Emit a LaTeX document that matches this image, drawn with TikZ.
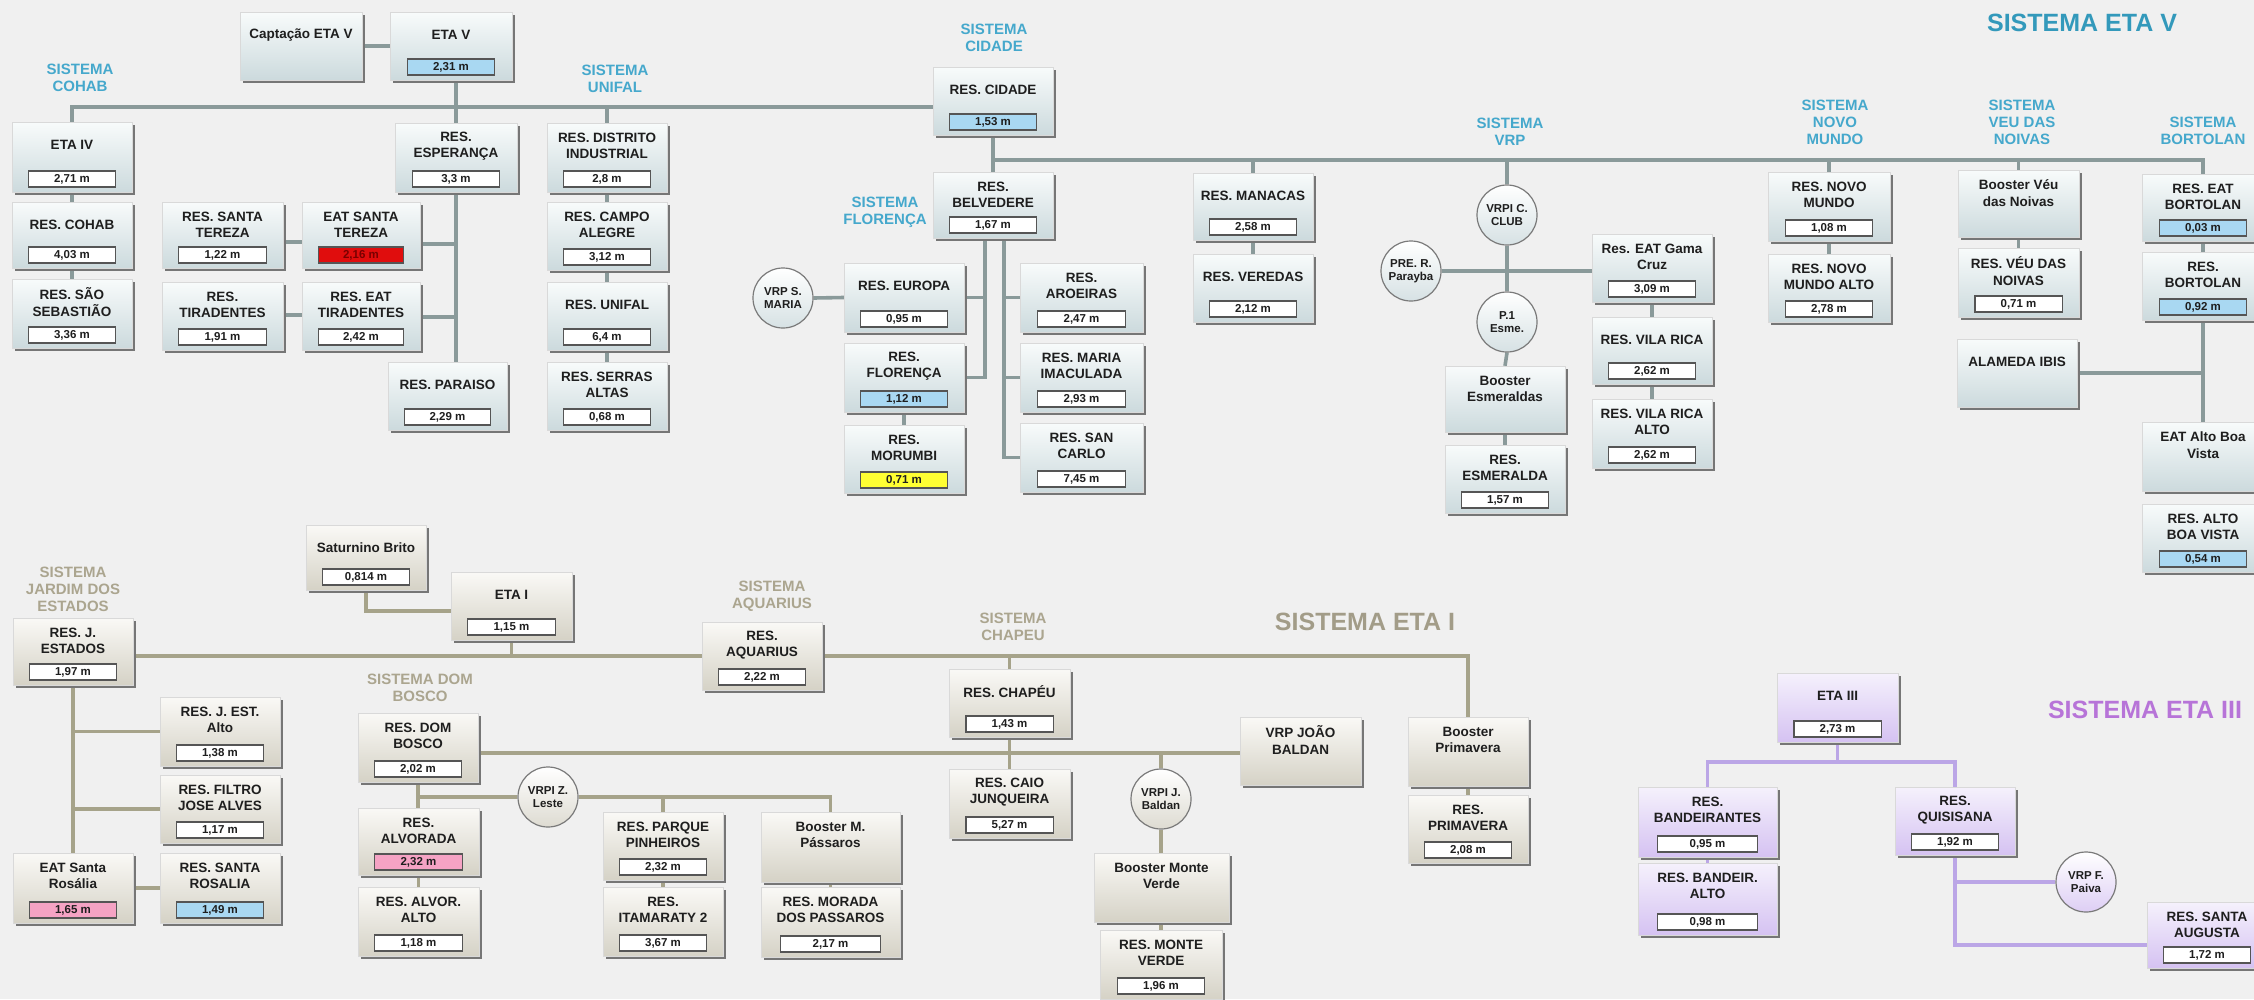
\documentclass[tikz,border=0pt]{standalone}
\usepackage{fontspec}
\setmainfont{Liberation Sans}
\usetikzlibrary{shadows,calc}
\definecolor{bgc}{HTML}{F0F0F0}
\definecolor{tbt}{HTML}{F8FBFB}
\definecolor{tbb}{HTML}{CCDADD}
\definecolor{bbt}{HTML}{FAF9F6}
\definecolor{bbb}{HTML}{D5D2C6}
\definecolor{pbt}{HTML}{F5F1FC}
\definecolor{pbb}{HTML}{D5C2F2}
\definecolor{shc}{HTML}{767676}
\definecolor{txc}{HTML}{1E1E1E}
\definecolor{vbd}{HTML}{555555}
\definecolor{vblue}{HTML}{A9D8F2}
\definecolor{vred}{HTML}{E00D0D}
\definecolor{vredt}{HTML}{7A0000}
\definecolor{vyel}{HTML}{FFFF33}
\definecolor{vpink}{HTML}{F5A3C4}
\definecolor{cird}{HTML}{7A7A7A}
\definecolor{tlc}{HTML}{8A9A9A}
\definecolor{blc}{HTML}{A6A38A}
\definecolor{plc}{HTML}{BBA6E6}
\definecolor{cyanc}{HTML}{45A8CC}
\definecolor{cyanbig}{HTML}{3399BB}
\definecolor{tanc}{HTML}{ABA58F}
\definecolor{tanbig}{HTML}{A29C88}
\definecolor{purc}{HTML}{B774D8}
\pgfdeclarelayer{bgl}
\pgfdeclarelayer{lnl}
\pgfsetlayers{bgl,lnl,main}
\newcommand\mybox[9]{%
  \pgfmathsetmacro\bw{#4-#2}\pgfmathsetmacro\bh{#5-#3}%
  \pgfmathsetmacro\bcx{(#2+#4)/2}\pgfmathsetmacro\bcy{(#3+#5)/2}%
  \node[#6, minimum width=\bw pt, minimum height=\bh pt] (#1) at (\bcx,\bcy) {};
  \node[ttext] (#1-t) at (\bcx,#3+23) {#7};
  \if\relax\detokenize{#8}\relax\else
    \pgfmathsetmacro\vwd{0.72*\bw}%
    \node[#9, minimum width=\vwd pt] (#1-v) at (\bcx,#5-13) {#8};
  \fi
}
\begin{document}
\begin{tikzpicture}[x=1pt,y=-1pt,
  boxbase/.style={rectangle, inner sep=0pt, draw=white!85!black, line width=0.4pt,
    drop shadow={shadow xshift=2.5pt, shadow yshift=-2.5pt, fill=shc, opacity=1}},
  tb/.style={boxbase, top color=tbt, bottom color=tbb},
  bb/.style={boxbase, top color=bbt, bottom color=bbb},
  pb/.style={boxbase, top color=pbt, bottom color=pbb},
  ttext/.style={align=center, inner sep=0pt, font=\fontsize{13.5}{16.5}\selectfont\bfseries, text=txc},
  vbox/.style={draw=vbd, line width=1.1pt, inner sep=0pt, minimum height=16pt,
    font=\fontsize{11.5}{12}\selectfont\bfseries, text=txc},
  vw/.style={vbox, fill=white},
  vb/.style={vbox, fill=vblue},
  vr/.style={vbox, fill=vred, text=vredt},
  vy/.style={vbox, fill=vyel},
  vp/.style={vbox, fill=vpink},
  circbase/.style={circle, minimum size=60pt, inner sep=0pt, draw=cird, line width=1.2pt,
    align=center, font=\fontsize{11.5}{13.5}\selectfont\bfseries, text=txc},
  tcirc/.style={circbase, top color=white, bottom color=tbb!80!white},
  bcirc/.style={circbase, top color=white, bottom color=bbb!80!white},
  pcirc/.style={circbase, top color=white, bottom color=pbb!80!white},
  lab/.style={align=center, inner sep=0pt, font=\fontsize{15}{17}\selectfont\bfseries},
  tlab/.style={lab, text=cyanc},
  blab/.style={lab, text=tanc},
  bigt/.style={inner sep=0pt, font=\fontsize{25}{28}\selectfont\bfseries},
  tl/.style={draw=tlc, line width=3.6pt},
  bl/.style={draw=blc, line width=3.6pt},
  pl/.style={draw=plc, line width=3.6pt}
]
\useasboundingbox (0,0) rectangle (2254,999);
\begin{pgfonlayer}{bgl}
\fill[bgc] (0,0) rectangle (2254,999);
\end{pgfonlayer}

% ---------------- SISTEMA ETA V ----------------
\node[bigt, text=cyanbig] (titv) at (2082,23) {SISTEMA ETA V};
\node[tlab] (lcohab) at (80,78) {SISTEMA\\COHAB};
\node[tlab] (lunifal) at (615,79) {SISTEMA\\UNIFAL};
\node[tlab] (lcidade) at (994,38) {SISTEMA\\CIDADE};
\node[tlab] (lfloren) at (885,212) {SISTEMA\\FLORENÇA};
\node[tlab] (lvrp) at (1510,132) {SISTEMA\\VRP};
\node[tlab] (lnovo) at (1835,122) {SISTEMA\\NOVO\\MUNDO};
\node[tlab] (lveu) at (2022,122) {SISTEMA\\VEU DAS\\NOIVAS};
\node[tlab] (lbort) at (2203,131) {SISTEMA\\BORTOLAN};

\mybox{capt}{240}{12}{362}{80}{tb}{Captação ETA V}{}{vw}
\mybox{etav}{390}{12}{512}{80}{tb}{ETA V}{2,31 m}{vb}
\mybox{etaiv}{12}{122}{132}{192}{tb}{ETA IV}{2,71 m}{vw}
\mybox{cohab}{12}{202}{132}{268}{tb}{RES. COHAB}{4,03 m}{vw}
\mybox{saoseb}{12}{279}{132}{348}{tb}{RES. SÃO\\SEBASTIÃO}{3,36 m}{vw}
\mybox{stereza}{162}{202}{283}{268}{tb}{RES. SANTA\\TEREZA}{1,22 m}{vw}
\mybox{eatst}{302}{202}{420}{268}{tb}{EAT SANTA\\TEREZA}{2,16 m}{vr}
\mybox{tirad}{162}{282}{283}{350}{tb}{RES.\\TIRADENTES}{1,91 m}{vw}
\mybox{eattir}{302}{282}{420}{350}{tb}{RES. EAT\\TIRADENTES}{2,42 m}{vw}
\mybox{esper}{395}{123}{517}{192}{tb}{RES.\\ESPERANÇA}{3,3 m}{vw}
\mybox{paraiso}{388}{362}{507}{430}{tb}{RES. PARAISO}{2,29 m}{vw}
\mybox{distr}{547}{123}{667}{192}{tb}{RES. DISTRITO\\INDUSTRIAL}{2,8 m}{vw}
\mybox{campo}{547}{202}{667}{270}{tb}{RES. CAMPO\\ALEGRE}{3,12 m}{vw}
\mybox{unifal}{547}{282}{667}{350}{tb}{RES. UNIFAL}{6,4 m}{vw}
\mybox{serras}{547}{362}{667}{430}{tb}{RES. SERRAS\\ALTAS}{0,68 m}{vw}
\mybox{cidade}{933}{67}{1053}{135}{tb}{RES. CIDADE}{1,53 m}{vb}
\mybox{belv}{933}{172}{1053}{238}{tb}{RES.\\BELVEDERE}{1,67 m}{vw}
\mybox{europa}{844}{263}{964}{332}{tb}{RES. EUROPA}{0,95 m}{vw}
\mybox{floren}{844}{343}{964}{412}{tb}{RES.\\FLORENÇA}{1,12 m}{vb}
\mybox{morumbi}{844}{425}{964}{493}{tb}{RES.\\MORUMBI}{0,71 m}{vy}
\mybox{aroeiras}{1020}{263}{1143}{332}{tb}{RES.\\AROEIRAS}{2,47 m}{vw}
\mybox{mimac}{1020}{343}{1143}{412}{tb}{RES. MARIA\\IMACULADA}{2,93 m}{vw}
\mybox{sancarlo}{1020}{423}{1143}{492}{tb}{RES. SAN\\CARLO}{7,45 m}{vw}
\mybox{manacas}{1193}{173}{1313}{240}{tb}{RES. MANACAS}{2,58 m}{vw}
\mybox{veredas}{1193}{254}{1313}{322}{tb}{RES. VEREDAS}{2,12 m}{vw}
\mybox{gama}{1592}{234}{1712}{302}{tb}{Res. EAT Gama\\Cruz}{3,09 m}{vw}
\mybox{vrica}{1592}{317}{1712}{384}{tb}{RES. VILA RICA}{2,62 m}{vw}
\mybox{vricaalto}{1592}{399}{1712}{468}{tb}{RES. VILA RICA\\ALTO}{2,62 m}{vw}
\mybox{boostesm}{1445}{366}{1565}{432}{tb}{Booster\\Esmeraldas}{}{vw}
\mybox{esmeralda}{1445}{445}{1565}{513}{tb}{RES.\\ESMERALDA}{1,57 m}{vw}
\mybox{novomundo}{1768}{172}{1890}{241}{tb}{RES. NOVO\\MUNDO}{1,08 m}{vw}
\mybox{nmalto}{1768}{254}{1890}{322}{tb}{RES. NOVO\\MUNDO ALTO}{2,78 m}{vw}
\mybox{boostveu}{1958}{170}{2079}{237}{tb}{Booster Véu\\das Noivas}{}{vw}
\mybox{veu}{1958}{248}{2079}{317}{tb}{RES. VÉU DAS\\NOIVAS}{0,71 m}{vw}
\mybox{alameda}{1957}{339}{2077}{407}{tb}{ALAMEDA IBIS}{}{vw}
\mybox{eatbort}{2142}{174}{2264}{241}{tb}{RES. EAT\\BORTOLAN}{0,03 m}{vb}
\mybox{bort}{2142}{252}{2264}{320}{tb}{RES.\\BORTOLAN}{0,92 m}{vb}
\mybox{eatabv}{2142}{422}{2264}{491}{tb}{EAT Alto Boa\\Vista}{}{vw}
\mybox{resabv}{2142}{504}{2264}{572}{tb}{RES. ALTO\\BOA VISTA}{0,54 m}{vb}

\node[tcirc] (vrpsm) at (783,298) {VRP S.\\MARIA};
\node[tcirc] (vrpclub) at (1507,215) {VRPI C.\\CLUB};
\node[tcirc] (preR) at (1411,271) {PRE. R.\\Parayba};
\node[tcirc] (p1) at (1507,322) {P.1\\Esme.};

% ---------------- SISTEMA ETA I ----------------
\node[bigt, text=tanbig] (titi) at (1365,622) {SISTEMA ETA I};
\node[blab] (ljest) at (73,589) {SISTEMA\\JARDIM DOS\\ESTADOS};
\node[blab] (ldom) at (420,688) {SISTEMA DOM\\BOSCO};
\node[blab] (laquar) at (772,596) {SISTEMA\\AQUARIUS};
\node[blab] (lchap) at (1013,627) {SISTEMA\\CHAPEU};

\mybox{jest}{13}{618}{133}{685}{bb}{RES. J.\\ESTADOS}{1,97 m}{vw}
\mybox{jestalto}{160}{697}{280}{766}{bb}{RES. J. EST.\\Alto}{1,38 m}{vw}
\mybox{filtro}{160}{775}{280}{843}{bb}{RES. FILTRO\\JOSE ALVES}{1,17 m}{vw}
\mybox{eatsr}{13}{853}{133}{923}{bb}{EAT Santa\\Rosália}{1,65 m}{vp}
\mybox{ressr}{160}{853}{280}{923}{bb}{RES. SANTA\\ROSALIA}{1,49 m}{vb}
\mybox{satur}{306}{525}{426}{590}{bb}{Saturnino Brito}{0,814 m}{vw}
\mybox{etai}{451}{572}{572}{640}{bb}{ETA I}{1,15 m}{vw}
\mybox{aquar}{702}{622}{822}{690}{bb}{RES.\\AQUARIUS}{2,22 m}{vw}
\mybox{chapeu}{949}{669}{1070}{737}{bb}{RES. CHAPÉU}{1,43 m}{vw}
\mybox{caio}{949}{769}{1070}{838}{bb}{RES. CAIO\\JUNQUEIRA}{5,27 m}{vw}
\mybox{dombosco}{358}{713}{478}{782}{bb}{RES. DOM\\BOSCO}{2,02 m}{vw}
\mybox{alvorada}{358}{808}{479}{875}{bb}{RES.\\ALVORADA}{2,32 m}{vp}
\mybox{alvalto}{358}{887}{479}{956}{bb}{RES. ALVOR.\\ALTO}{1,18 m}{vw}
\mybox{pinheiros}{603}{812}{723}{880}{bb}{RES. PARQUE\\PINHEIROS}{2,32 m}{vw}
\mybox{itamaraty}{603}{887}{723}{956}{bb}{RES.\\ITAMARATY 2}{3,67 m}{vw}
\mybox{boostmp}{761}{812}{900}{882}{bb}{Booster M.\\Pássaros}{}{vw}
\mybox{morada}{761}{887}{900}{957}{bb}{RES. MORADA\\DOS PASSAROS}{2,17 m}{vw}
\mybox{boostmv}{1094}{853}{1229}{922}{bb}{Booster Monte\\Verde}{}{vw}
\mybox{monteverde}{1100}{930}{1222}{999}{bb}{RES. MONTE\\VERDE}{1,96 m}{vw}
\mybox{vrpjoao}{1240}{717}{1361}{785}{bb}{VRP JOÃO\\BALDAN}{}{vw}
\mybox{boostprim}{1408}{717}{1528}{786}{bb}{Booster\\Primavera}{}{vw}
\mybox{primavera}{1408}{795}{1528}{863}{bb}{RES.\\PRIMAVERA}{2,08 m}{vw}

\node[bcirc] (vrpzl) at (548,797) {VRPI Z.\\Leste};
\node[bcirc] (vrpjb) at (1161,799) {VRPI J.\\Baldan};

% ---------------- SISTEMA ETA III ----------------
\node[bigt, text=purc] (titiii) at (2145,710) {SISTEMA ETA III};
\mybox{etaiii}{1777}{673}{1898}{742}{pb}{ETA III}{2,73 m}{vw}
\mybox{band}{1638}{787}{1777}{857}{pb}{RES.\\BANDEIRANTES}{0,95 m}{vw}
\mybox{bandalto}{1638}{863}{1777}{935}{pb}{RES. BANDEIR.\\ALTO}{0,98 m}{vw}
\mybox{quis}{1895}{787}{2015}{855}{pb}{RES.\\QUISISANA}{1,92 m}{vw}
\mybox{staug}{2147}{902}{2267}{968}{pb}{RES. SANTA\\AUGUSTA}{1,72 m}{vw}
\node[pcirc] (vrpfp) at (2086,882) {VRP F.\\Paiva};

% ---------------- connectors ----------------
\coordinate (busA) at (0,107);
\coordinate (busB) at (0,160);
\coordinate (busC) at (0,656);
\coordinate (busD) at (0,753);
\coordinate (busE) at (0,797);
\coordinate (busF) at (0,762);
\coordinate (bvl) at ($(belv.south)+(-8,0)$);
\coordinate (bvr) at ($(belv.south)+(11,0)$);

\begin{pgfonlayer}{lnl}
% ETA V
\draw[tl] (capt.east) -- (etav.west);
\draw[tl] (esper.north |- etav.south) -- (esper.north);
\draw[tl] (etaiv.north) |- (cidade.west |- busA);
\draw[tl] (distr.north) -- (distr.north |- busA);
\draw[tl] (etaiv.south) -- (cohab.north);
\draw[tl] (cohab.south) -- (saoseb.north);
\draw[tl] (esper.south) -- (esper.south |- paraiso.north);
\draw[tl] ($(stereza.east)+(0,7)$) -- ($(eatst.west)+(0,7)$);
\draw[tl] ($(eatst.east)+(0,9)$) -- ($(eatst.east -| esper.south)+(0,9)$);
\draw[tl] ($(tirad.east)+(0,-1)$) -- ($(eattir.west)+(0,-1)$);
\draw[tl] ($(eattir.east)+(0,1)$) -- ($(eattir.east -| esper.south)+(0,1)$);
\draw[tl] (distr.south) -- (campo.north);
\draw[tl] (campo.south) -- (unifal.north);
\draw[tl] (unifal.south) -- (serras.north);
\draw[tl] (cidade.south) -- (belv.north);
\draw[tl] (cidade.south |- busB) -| (eatbort.north);
\draw[tl] (manacas.north) -- (manacas.north |- busB);
\draw[tl] (vrpclub.north) -- (vrpclub.north |- busB);
\draw[tl] (novomundo.north) -- (novomundo.north |- busB);
\draw[tl] (boostveu.north) -- (boostveu.north |- busB);
\draw[tl] (bvl) |- (floren.east);
\draw[tl] (bvl |- europa.east) -- (europa.east);
\draw[tl] (bvr) |- (sancarlo.west);
\draw[tl] (bvr |- aroeiras.west) -- (aroeiras.west);
\draw[tl] (bvr |- mimac.west) -- (mimac.west);
\draw[tl] (vrpsm.east) -- (europa.west);
\draw[tl] (floren.south) -- (morumbi.north);
\draw[tl] (manacas.south) -- (veredas.north);
\draw[tl] (vrpclub.south) -- (p1.north);
\draw[tl] (p1.south) -- (boostesm.north);
\draw[tl] (boostesm.south) -- (esmeralda.north);
\draw[tl] (preR.east) -- (preR.east -| gama.west);
\draw[tl] (gama.south) -- (vrica.north);
\draw[tl] (vrica.south) -- (vricaalto.north);
\draw[tl] (novomundo.south) -- (nmalto.north);
\draw[tl] (boostveu.south) -- (veu.north);
\draw[tl] (eatbort.south) -- (bort.north);
\draw[tl] (bort.south) -- (eatabv.north);
\draw[tl] (alameda.east) -- (alameda.east -| bort.south);
% ETA I
\draw[bl] (jest.east |- busC) -| (boostprim.north);
\draw[bl] (etai.south) -- (etai.south |- busC);
\draw[bl] (satur.south) |- ($(etai.west)+(0,5)$);
\draw[bl] (chapeu.north) -- (chapeu.north |- busC);
\draw[bl] (jest.south) -- (eatsr.north);
\draw[bl] (jest.south |- jestalto.west) -- (jestalto.west);
\draw[bl] (jest.south |- filtro.west) -- (filtro.west);
\draw[bl] (eatsr.east) -- (ressr.west);
\draw[bl] (dombosco.east |- busD) -- (vrpjoao.west |- busD);
\draw[bl] (chapeu.south) -- (caio.north);
\draw[bl] (vrpjb.north) -- (vrpjb.north |- busD);
\draw[bl] (vrpjb.south) -- (vrpjb.south |- boostmv.north);
\draw[bl] (vrpjb.south |- boostmv.south) -- (vrpjb.south |- monteverde.north);
\draw[bl] (dombosco.south) -- (dombosco.south |- alvorada.north);
\draw[bl] (dombosco.south |- busE) -- (vrpzl.west);
\draw[bl] (vrpzl.east) -| (boostmp.north);
\draw[bl] (pinheiros.north) -- (pinheiros.north |- busE);
\draw[bl] (alvorada.south) -- (alvalto.north);
\draw[bl] (pinheiros.south) -- (itamaraty.north);
\draw[bl] (boostmp.south) -- (morada.north);
\draw[bl] (boostprim.south) -- (primavera.north);
% ETA III
\draw[pl] (etaiii.south) -- (etaiii.south |- busF);
\draw[pl] (band.north) |- (busF -| quis.north) -- (quis.north);
\draw[pl] (band.south) -- (bandalto.north);
\draw[pl] (quis.south) |- ($(staug.west)+(0,10)$);
\draw[pl] (quis.south |- vrpfp.west) -- (vrpfp.west);
\end{pgfonlayer}
\end{tikzpicture}
\end{document}
